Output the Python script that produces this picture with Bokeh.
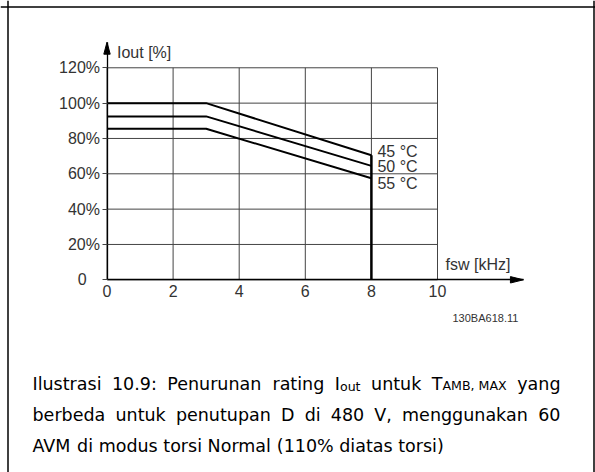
from bokeh.plotting import figure
from bokeh.models import (Label, Range1d, LinearAxis, FixedTicker, Span)
from bokeh.embed import file_html
from bokeh.resources import INLINE

# ---------------- data ----------------
freq_khz = [0, 3, 8]
iout_45 = [100, 100, 70.5]
iout_50 = [92.5, 92.5, 64.5]
iout_55 = [85.5, 85.5, 57.5]
series_labels = ["45 °C", "50 °C", "55 °C"]
cutoff_khz = 8
x_ticks = [0, 2, 4, 6, 8, 10]
y_ticks = [0, 20, 40, 60, 80, 100, 120]
y_tick_labels = ["0\u00a0\u00a0\u00a0", "20%", "40%", "60%", "80%", "100%", "120%"]
x_axis_end = 12.6
y_axis_end = 134.5
x_title = "fsw [kHz]"
y_title = "Iout [%]"
drawing_id = "130BA618.11"
caption_lines = [
    [[("Ilustrasi", 1, 0)], [("10.9:", 1, 0)], [("Penurunan", 1, 0)], [("rating", 1, 0)],
     [("I", 1, 0), ("out", 0.72, -3)], [("untuk", 1, 0)],
     [("T", 1, 0), ("AMB, MAX", 0.72, -1.5)], [("yang", 1, 0)]],
    [[("berbeda", 1, 0)], [("untuk", 1, 0)], [("penutupan", 1, 0)], [("D", 1, 0)], [("di", 1, 0)],
     [("480", 1, 0)], [("V,", 1, 0)], [("menggunakan", 1, 0)], [("60", 1, 0)]],
    [[("AVM", 1, 0)], [("di", 1, 0)], [("modus", 1, 0)], [("torsi", 1, 0)], [("Normal", 1, 0)],
     [("(110%", 1, 0)], [("diatas", 1, 0)], [("torsi)", 1, 0)]],
]
caption_justify = [True, True, False]

# ---------------- geometry ----------------
W, H = 595, 472
PX_X = 33.05      # px per kHz
PX_Y = 1.7667     # px per %
ORIGIN_X = 106.5  # canvas px of x = 0 from the left
ORIGIN_Y = 192.7  # canvas px of y = 0 from the bottom

p = figure(width=W, height=H, output_backend="svg", toolbar_location=None,
           x_range=Range1d(-ORIGIN_X / PX_X, (W - ORIGIN_X) / PX_X),
           y_range=Range1d(-ORIGIN_Y / PX_Y, (H - ORIGIN_Y) / PX_Y),
           x_axis_type=None, y_axis_type=None, min_border=0)
p.outline_line_color = None
p.background_fill_color = "white"
p.border_fill_color = "white"

TICK_FONT = "Liberation Sans"
TICK_COLOR = "#333333"
TICK_SIZE = "16px"

xaxis = LinearAxis(fixed_location=0, bounds=(0, x_axis_end),
                   ticker=FixedTicker(ticks=x_ticks))
xaxis.major_tick_out = 0
xaxis.major_tick_in = 0
xaxis.minor_tick_out = 0
xaxis.minor_tick_in = 0
xaxis.axis_line_color = "black"
xaxis.axis_line_width = 1.3
xaxis.major_label_text_font = TICK_FONT
xaxis.major_label_text_font_size = TICK_SIZE
xaxis.major_label_text_color = TICK_COLOR
xaxis.major_label_standoff = 5
p.add_layout(xaxis, "below")

yaxis = LinearAxis(fixed_location=0, bounds=(0, y_axis_end),
                   ticker=FixedTicker(ticks=y_ticks))
yaxis.major_label_overrides = {t: l for t, l in zip(y_ticks, y_tick_labels)}
yaxis.major_tick_out = 5
yaxis.major_tick_in = 0
yaxis.minor_tick_out = 0
yaxis.minor_tick_in = 0
yaxis.major_tick_line_color = "#444444"
yaxis.axis_line_color = "black"
yaxis.axis_line_width = 1.3
yaxis.major_label_text_font = TICK_FONT
yaxis.major_label_text_font_size = TICK_SIZE
yaxis.major_label_text_color = TICK_COLOR
yaxis.major_label_standoff = 2
p.add_layout(yaxis, "left")

# grid (bounded to the 0..10 / 0..120 box)
p.segment(x0=x_ticks, y0=[y_ticks[0]] * len(x_ticks), x1=x_ticks, y1=[y_ticks[-1]] * len(x_ticks),
          line_color="#444444", line_width=1)
p.segment(x0=[x_ticks[0]] * len(y_ticks), y0=y_ticks, x1=[x_ticks[-1]] * len(y_ticks), y1=y_ticks,
          line_color="#444444", line_width=1)

# arrow heads at the axis ends
p.patch(x=[-3.2 / PX_X, 0, 3.2 / PX_X], y=[y_axis_end - 12 / PX_Y, y_axis_end, y_axis_end - 12 / PX_Y],
        fill_color="black", line_color="black")
p.patch(x=[x_axis_end - 13 / PX_X, x_axis_end, x_axis_end - 13 / PX_X], y=[-3.2 / PX_Y, 0, 3.2 / PX_Y],
        fill_color="black", line_color="black")

# derating curves
for ys in (iout_45, iout_50, iout_55):
    p.line(freq_khz, ys, line_color="black", line_width=2)
p.segment(x0=[cutoff_khz], y0=[0], x1=[cutoff_khz], y1=[iout_45[-1]], line_color="black", line_width=2.5)

label_offsets = [3.5, -1, -5.5]
for lab, ys, dy in zip(series_labels, (iout_45, iout_50, iout_55), label_offsets):
    p.add_layout(Label(x=cutoff_khz, y=ys[-1], x_offset=6, y_offset=dy, text=lab,
                       text_font=TICK_FONT, text_font_size=TICK_SIZE, text_color=TICK_COLOR,
                       text_baseline="middle"))

p.add_layout(Label(x=0, y=y_axis_end, x_offset=10, y_offset=-10, text=y_title,
                   text_font=TICK_FONT, text_font_size=TICK_SIZE, text_color=TICK_COLOR,
                   text_baseline="middle"))
p.add_layout(Label(x=x_ticks[-1], y=0, x_offset=8, y_offset=15, text=x_title,
                   text_font=TICK_FONT, text_font_size=TICK_SIZE, text_color=TICK_COLOR,
                   text_baseline="middle"))
p.add_layout(Label(x=452, y=H - 317, x_units="screen", y_units="screen", text=drawing_id,
                   text_font=TICK_FONT, text_font_size="11px", text_color=TICK_COLOR,
                   text_baseline="middle"))

# frame of the page (left, top, right)
p.add_layout(Span(location=7.5, location_units="screen", dimension="height", line_color="black", line_width=1.5))
p.add_layout(Span(location=H - 6.5, location_units="screen", dimension="width", line_color="black", line_width=1.5))
p.add_layout(Span(location=593.5, location_units="screen", dimension="height", line_color="black", line_width=1.5))

# caption, justified word by word
CW = {" ": 318, "a": 613, "b": 635, "c": 550, "d": 635, "e": 615, "f": 352, "g": 635, "h": 634,
      "i": 278, "j": 278, "k": 579, "l": 278, "m": 974, "n": 634, "o": 612, "p": 635, "q": 635,
      "r": 411, "s": 521, "t": 392, "u": 634, "v": 592, "w": 818, "x": 592, "y": 592, "z": 525,
      "A": 684, "B": 686, "C": 698, "D": 770, "E": 632, "I": 295, "M": 863, "N": 748, "P": 603,
      "T": 611, "V": 684, "X": 685, ".": 318, ",": 318, ":": 337, "(": 390, ")": 390, "%": 950}
for d in "0123456789":
    CW[d] = 636

CAP_FONT = "DejaVu Sans"
CAP_SIZE = 17.5
CAP_LEFT = 32
CAP_RIGHT = 560
CAP_BASELINES = [383, 414, 445]


def text_w(s, size):
    return sum(CW.get(c, 600) for c in s) * size / 1000.0


for words, just, base in zip(caption_lines, caption_justify, CAP_BASELINES):
    widths = [sum(text_w(t, CAP_SIZE * sc) for t, sc, _ in w) for w in words]
    space = text_w(" ", CAP_SIZE)
    if just:
        space = (CAP_RIGHT - CAP_LEFT - sum(widths)) / (len(words) - 1)
    x = CAP_LEFT
    for w, wd in zip(words, widths):
        xx = x
        for t, sc, dy in w:
            p.add_layout(Label(x=xx, y=H - base + dy, x_units="screen", y_units="screen", text=t,
                               text_font=CAP_FONT, text_font_size=f"{CAP_SIZE * sc:.1f}px",
                               text_color="black", text_baseline="alphabetic"))
            xx += text_w(t, CAP_SIZE * sc)
        x += wd + space

open("out.html", "w").write(file_html(p, INLINE))
